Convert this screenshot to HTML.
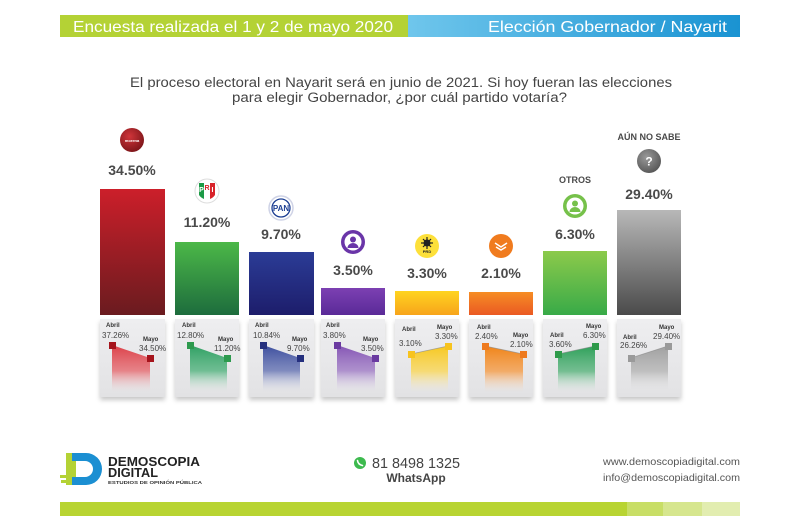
<!DOCTYPE html>
<html><head><meta charset="utf-8"><style>
html,body{margin:0;padding:0;background:#fff;}
svg{display:block;font-family:"Liberation Sans",sans-serif;}
</style></head><body>
<svg width="800" height="516" viewBox="0 0 800 516" xmlns="http://www.w3.org/2000/svg">
<defs>
<linearGradient id="hb" x1="0" x2="1" y1="0" y2="0"><stop offset="0" stop-color="#6fc6ec"/><stop offset="1" stop-color="#1a93d2"/></linearGradient>
<linearGradient id="bRed" x1="0" x2="0" y1="0" y2="1"><stop offset="0" stop-color="#cc1f2a"/><stop offset="1" stop-color="#6a1b1f"/></linearGradient>
<linearGradient id="bGrn" x1="0" x2="0" y1="0" y2="1"><stop offset="0" stop-color="#4cb848"/><stop offset="1" stop-color="#1d6c3d"/></linearGradient>
<linearGradient id="bBlu" x1="0" x2="0" y1="0" y2="1"><stop offset="0" stop-color="#2b3c96"/><stop offset="1" stop-color="#1d1d6b"/></linearGradient>
<linearGradient id="bPur" x1="0" x2="0" y1="0" y2="1"><stop offset="0" stop-color="#7c40b2"/><stop offset="1" stop-color="#5a2a98"/></linearGradient>
<linearGradient id="bYel" x1="0" x2="0" y1="0" y2="1"><stop offset="0" stop-color="#ffd420"/><stop offset="1" stop-color="#f7a41b"/></linearGradient>
<linearGradient id="bOra" x1="0" x2="0" y1="0" y2="1"><stop offset="0" stop-color="#f68d24"/><stop offset="1" stop-color="#ea5923"/></linearGradient>
<linearGradient id="bGr2" x1="0" x2="0" y1="0" y2="1"><stop offset="0" stop-color="#8cca4b"/><stop offset="1" stop-color="#38aa48"/></linearGradient>
<linearGradient id="bGry" x1="0" x2="0" y1="0" y2="1"><stop offset="0" stop-color="#b8b8b8"/><stop offset="1" stop-color="#4a4a4a"/></linearGradient>
<linearGradient id="card" x1="0" x2="0" y1="0" y2="1"><stop offset="0" stop-color="#eeeef0"/><stop offset="1" stop-color="#e2e2e4"/></linearGradient>
<linearGradient id="fRed" x1="0" x2="0" y1="0" y2="1"><stop offset="0" stop-color="#dc4048"/><stop offset=".55" stop-color="#e66a70" stop-opacity=".8"/><stop offset="1" stop-color="#f3d0d2" stop-opacity="0"/></linearGradient>
<linearGradient id="fGrn" x1="0" x2="0" y1="0" y2="1"><stop offset="0" stop-color="#2fa062"/><stop offset=".55" stop-color="#52b37e" stop-opacity=".8"/><stop offset="1" stop-color="#cfe9da" stop-opacity="0"/></linearGradient>
<linearGradient id="fBlu" x1="0" x2="0" y1="0" y2="1"><stop offset="0" stop-color="#3c4e9e"/><stop offset=".55" stop-color="#6674b4" stop-opacity=".8"/><stop offset="1" stop-color="#d4d8ec" stop-opacity="0"/></linearGradient>
<linearGradient id="fPur" x1="0" x2="0" y1="0" y2="1"><stop offset="0" stop-color="#8454b4"/><stop offset=".55" stop-color="#a07cc6" stop-opacity=".8"/><stop offset="1" stop-color="#e2d6ee" stop-opacity="0"/></linearGradient>
<linearGradient id="fYel" x1="0" x2="0" y1="0" y2="1"><stop offset="0" stop-color="#f7c821"/><stop offset=".55" stop-color="#f9d860" stop-opacity=".85"/><stop offset="1" stop-color="#fbeec0" stop-opacity="0"/></linearGradient>
<linearGradient id="fOra" x1="0" x2="0" y1="0" y2="1"><stop offset="0" stop-color="#f08418"/><stop offset=".55" stop-color="#f4a050" stop-opacity=".85"/><stop offset="1" stop-color="#fbdcc0" stop-opacity="0"/></linearGradient>
<linearGradient id="fGr2" x1="0" x2="0" y1="0" y2="1"><stop offset="0" stop-color="#2fa05a"/><stop offset=".55" stop-color="#58b47c" stop-opacity=".8"/><stop offset="1" stop-color="#cfe9d8" stop-opacity="0"/></linearGradient>
<linearGradient id="fGry" x1="0" x2="0" y1="0" y2="1"><stop offset="0" stop-color="#a0a0a0"/><stop offset=".55" stop-color="#b8b8b8" stop-opacity=".85"/><stop offset="1" stop-color="#e6e6e6" stop-opacity="0"/></linearGradient>
<radialGradient id="rm" cx=".4" cy=".35" r=".7"><stop offset="0" stop-color="#d0353a"/><stop offset="1" stop-color="#7a1418"/></radialGradient>
<radialGradient id="rq" cx=".4" cy=".35" r=".7"><stop offset="0" stop-color="#9a9a9a"/><stop offset="1" stop-color="#555"/></radialGradient>
<filter id="sh" x="-20%" y="-20%" width="140%" height="140%"><feDropShadow dx="0" dy="3" stdDeviation="2.5" flood-color="#000" flood-opacity=".22"/></filter>
</defs>

<!-- header -->
<rect x="60" y="15" width="348" height="22" fill="#b4d235"/>
<rect x="408" y="15" width="332" height="22" fill="url(#hb)"/>
<text x="73" y="32" font-size="16" fill="#fff" textLength="320" lengthAdjust="spacingAndGlyphs">Encuesta realizada el 1 y 2 de mayo 2020</text>
<text x="488" y="32" font-size="16" fill="#fff" textLength="239" lengthAdjust="spacingAndGlyphs">Elección Gobernador / Nayarit</text>

<!-- title -->
<text x="130" y="87" font-size="13.5" fill="#444" textLength="542" lengthAdjust="spacingAndGlyphs">El proceso electoral en Nayarit será en junio de 2021. Si hoy fueran las elecciones</text>
<text x="232" y="102" font-size="13.5" fill="#444" textLength="335" lengthAdjust="spacingAndGlyphs">para elegir Gobernador, ¿por cuál partido votaría?</text>

<!-- bars -->
<rect x="100" y="189" width="65" height="126" fill="url(#bRed)"/>
<rect x="175" y="242" width="64" height="73" fill="url(#bGrn)"/>
<rect x="249" y="252" width="65" height="63" fill="url(#bBlu)"/>
<rect x="321" y="288" width="64" height="27" fill="url(#bPur)"/>
<rect x="395" y="291" width="64" height="24" fill="url(#bYel)"/>
<rect x="469" y="292" width="64" height="23" fill="url(#bOra)"/>
<rect x="543" y="251" width="64" height="64" fill="url(#bGr2)"/>
<rect x="617" y="210" width="64" height="105" fill="url(#bGry)"/>

<!-- percentages -->
<g font-size="14" font-weight="bold" fill="#4a4a4a" text-anchor="middle">
<text x="132" y="175">34.50%</text>
<text x="207" y="227">11.20%</text>
<text x="281" y="239">9.70%</text>
<text x="353" y="275">3.50%</text>
<text x="427" y="278">3.30%</text>
<text x="501" y="278">2.10%</text>
<text x="575" y="239">6.30%</text>
<text x="649" y="199">29.40%</text>
</g>
<g font-size="9" font-weight="bold" fill="#4a4a4a" text-anchor="middle">
<text x="575" y="183">OTROS</text>
<text x="649" y="140">AÚN NO SABE</text>
</g>

<!-- icons -->
<circle cx="132" cy="140" r="12" fill="url(#rm)"/>
<text x="132" y="142" font-size="4" fill="#fff" text-anchor="middle" font-weight="bold">morena</text>

<circle cx="207" cy="191" r="12" fill="#fff" stroke="#ddd" stroke-width="1"/>
<path d="M199,183 h5 v16 a11,11 0 0 1 -5,-4 z" fill="#1c9a46"/>
<path d="M210,183 h5 v12 a11,11 0 0 1 -5,4 z" fill="#d8232a"/>
<text x="201.5" y="192" font-size="7" font-weight="bold" fill="#fff" text-anchor="middle">P</text>
<text x="207" y="190" font-size="7" font-weight="bold" fill="#d8232a" text-anchor="middle">R</text>
<text x="212.5" y="192" font-size="7" font-weight="bold" fill="#fff" text-anchor="middle">I</text>

<circle cx="281" cy="208" r="12" fill="#fff" stroke="#cfd3e6" stroke-width="1.5"/>
<circle cx="281" cy="208" r="9" fill="none" stroke="#1d3f93" stroke-width="1.3"/>
<text x="281" y="211" font-size="8" font-weight="bold" fill="#1d3f93" text-anchor="middle">PAN</text>

<circle cx="353" cy="242" r="12" fill="#6a35a8"/>
<circle cx="353" cy="242" r="8.5" fill="#fff"/>
<circle cx="353" cy="239.5" r="3" fill="#6a35a8"/>
<path d="M347.5,248 a5.5,5 0 0 1 11,0 z" fill="#6a35a8"/>

<circle cx="427" cy="246" r="12" fill="#fde03a"/>
<circle cx="427" cy="243" r="3.5" fill="#222"/>
<g stroke="#222" stroke-width="1.2"><line x1="427" y1="237" x2="427" y2="249"/><line x1="421" y1="243" x2="433" y2="243"/><line x1="423" y1="239" x2="431" y2="247"/><line x1="431" y1="239" x2="423" y2="247"/></g>
<text x="427" y="253" font-size="4" font-weight="bold" fill="#222" text-anchor="middle">PRD</text>

<circle cx="501" cy="246" r="12" fill="#f07b1e"/>
<path d="M495,243 l6,4 l6,-4 M496,247 l5,3 l5,-3" stroke="#fff" stroke-width="1.5" fill="none"/>

<circle cx="575" cy="206" r="12" fill="#76c14a"/>
<circle cx="575" cy="206" r="8.5" fill="#fff"/>
<circle cx="575" cy="203.5" r="3" fill="#76c14a"/>
<path d="M569.5,212 a5.5,5 0 0 1 11,0 z" fill="#76c14a"/>

<circle cx="649" cy="161" r="12" fill="url(#rq)"/>
<text x="649" y="165.5" font-size="12" font-weight="bold" fill="#fff" text-anchor="middle">?</text>

<!-- cards -->
<g filter="url(#sh)">
<rect x="100" y="319" width="65" height="78" fill="url(#card)"/>
<rect x="175" y="319" width="64" height="78" fill="url(#card)"/>
<rect x="249" y="319" width="65" height="78" fill="url(#card)"/>
<rect x="321" y="319" width="64" height="78" fill="url(#card)"/>
<rect x="395" y="319" width="64" height="78" fill="url(#card)"/>
<rect x="469" y="319" width="64" height="78" fill="url(#card)"/>
<rect x="543" y="319" width="64" height="78" fill="url(#card)"/>
<rect x="617" y="319" width="64" height="78" fill="url(#card)"/>
</g>

<!-- card fills -->
<polygon points="112,345 150,358 150,392 112,392" fill="url(#fRed)"/>
<polygon points="190,345 227,358 227,392 190,392" fill="url(#fGrn)"/>
<polygon points="263,345 300,358 300,392 263,392" fill="url(#fBlu)"/>
<polygon points="337,345 375,358 375,392 337,392" fill="url(#fPur)"/>
<polygon points="411,354 448,346 448,392 411,392" fill="url(#fYel)"/>
<polygon points="485,346 523,354 523,392 485,392" fill="url(#fOra)"/>
<polygon points="558,354 595,346 595,392 558,392" fill="url(#fGr2)"/>
<polygon points="631,358 668,346 668,392 631,392" fill="url(#fGry)"/>

<g stroke="#8a8a8a" stroke-width="0.8" opacity=".7">
<line x1="411" y1="354" x2="448" y2="346"/>
<line x1="485" y1="346" x2="523" y2="354"/>
<line x1="558" y1="354" x2="595" y2="346"/>
<line x1="631" y1="358" x2="668" y2="346"/>
</g>

<!-- squares -->
<g>
<rect x="109" y="342" width="7" height="7" fill="#a5141c"/><rect x="147" y="355" width="7" height="7" fill="#a5141c"/>
<rect x="187" y="342" width="7" height="7" fill="#2d9a4e"/><rect x="224" y="355" width="7" height="7" fill="#2d9a4e"/>
<rect x="260" y="342" width="7" height="7" fill="#25307e"/><rect x="297" y="355" width="7" height="7" fill="#25307e"/>
<rect x="334" y="342" width="7" height="7" fill="#6a3aa0"/><rect x="372" y="355" width="7" height="7" fill="#6a3aa0"/>
<rect x="408" y="351" width="7" height="7" fill="#f7c31e"/><rect x="445" y="343" width="7" height="7" fill="#f7c31e"/>
<rect x="482" y="343" width="7" height="7" fill="#ee7a1e"/><rect x="520" y="351" width="7" height="7" fill="#ee7a1e"/>
<rect x="555" y="351" width="7" height="7" fill="#2e9a4a"/><rect x="592" y="343" width="7" height="7" fill="#2e9a4a"/>
<rect x="628" y="355" width="7" height="7" fill="#9a9a9a"/><rect x="665" y="343" width="7" height="7" fill="#9a9a9a"/>
</g>

<!-- card labels -->
<g font-size="6" font-weight="bold" fill="#333">
<text x="106" y="327">Abril</text><text x="143" y="341">Mayo</text>
<text x="182" y="327">Abril</text><text x="218" y="341">Mayo</text>
<text x="255" y="327">Abril</text><text x="292" y="341">Mayo</text>
<text x="326" y="327">Abril</text><text x="363" y="341">Mayo</text>
<text x="402" y="331">Abril</text><text x="437" y="329">Mayo</text>
<text x="477" y="329">Abril</text><text x="513" y="337">Mayo</text>
<text x="550" y="337">Abril</text><text x="586" y="328">Mayo</text>
<text x="623" y="339">Abril</text><text x="659" y="329">Mayo</text>
</g>
<g font-size="8" fill="#444">
<text x="102" y="338">37.26%</text><text x="139" y="351">34.50%</text>
<text x="177" y="338">12.80%</text><text x="214" y="351">11.20%</text>
<text x="253" y="338">10.84%</text><text x="287" y="351">9.70%</text>
<text x="323" y="338">3.80%</text><text x="361" y="351">3.50%</text>
<text x="399" y="346">3.10%</text><text x="435" y="339">3.30%</text>
<text x="475" y="339">2.40%</text><text x="510" y="347">2.10%</text>
<text x="549" y="347">3.60%</text><text x="583" y="338">6.30%</text>
<text x="620" y="348">26.26%</text><text x="653" y="339">29.40%</text>
</g>

<!-- footer logo -->
<rect x="66" y="453" width="10" height="32" fill="#b4d235"/>
<rect x="60" y="475" width="6" height="3" fill="#b4d235"/>
<rect x="61" y="480" width="5" height="3" fill="#b4d235"/>
<path d="M72,453 H86 A16,16 0 0 1 86,485 H72 V477 H85 A8,8 0 0 0 85,461 H72 Z" fill="#1b8fd2"/>
<text x="108" y="466" font-size="13" font-weight="bold" fill="#222" textLength="92" lengthAdjust="spacingAndGlyphs">DEMOSCOPIA</text>
<text x="108" y="477" font-size="13" font-weight="bold" fill="#222" textLength="50" lengthAdjust="spacingAndGlyphs">DIGITAL</text>
<text x="108" y="484" font-size="4.5" font-weight="bold" fill="#333" textLength="94" lengthAdjust="spacingAndGlyphs">ESTUDIOS DE OPINIÓN PÚBLICA</text>

<!-- whatsapp -->
<circle cx="360" cy="463" r="6" fill="#3dba4e"/>
<path d="M357.5,460.5 q0.5,4 5,5" stroke="#fff" stroke-width="1.6" fill="none" stroke-linecap="round"/>
<text x="372" y="468" font-size="15" fill="#444" textLength="88" lengthAdjust="spacingAndGlyphs">81 8498 1325</text>
<text x="416" y="482" font-size="12" font-weight="bold" fill="#444" text-anchor="middle">WhatsApp</text>

<text x="603" y="465" font-size="10.5" fill="#555" textLength="137" lengthAdjust="spacingAndGlyphs">www.demoscopiadigital.com</text>
<text x="603" y="481" font-size="10.5" fill="#555" textLength="137" lengthAdjust="spacingAndGlyphs">info@demoscopiadigital.com</text>

<!-- footer bar -->
<rect x="60" y="502" width="567" height="14" fill="#b8d432"/>
<rect x="627" y="502" width="36" height="14" fill="#c8de66"/>
<rect x="663" y="502" width="39" height="14" fill="#d6e68e"/>
<rect x="702" y="502" width="38" height="14" fill="#e2edb0"/>
</svg>
</body></html>
